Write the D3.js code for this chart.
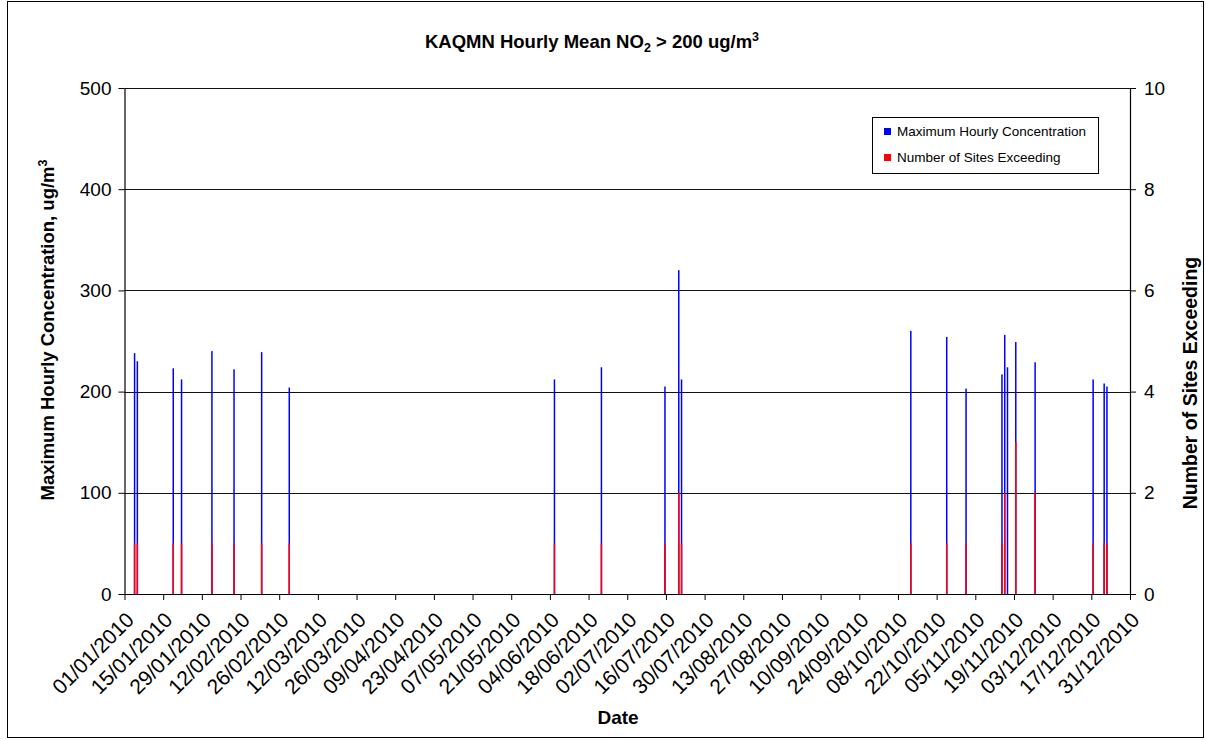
<!DOCTYPE html>
<html><head><meta charset="utf-8">
<script src="https://cdn.jsdelivr.net/npm/d3@7"></script>
<style>
body{margin:0;background:#fff;}
text{font-family:"Liberation Sans",Arial,sans-serif;fill:#000;}
</style>
</head><body>
<svg id="c" width="1206" height="740"></svg>
<script>
// ---- data ----
const dates = ["04/01/2010","05/01/2010","18/01/2010","21/01/2010","01/02/2010","09/02/2010","19/02/2010","01/03/2010",
  "05/06/2010","22/06/2010","15/07/2010","20/07/2010","21/07/2010",
  "12/10/2010","25/10/2010","01/11/2010","14/11/2010","15/11/2010","16/11/2010","19/11/2010","26/11/2010",
  "17/12/2010","21/12/2010","22/12/2010"];
const maxConc = [238,230,223,212,240,222,239,204, 212,224,205,320,212, 260,254,203,217,256,224,249,229, 212,208,205];
const sitesExceeding = [1,1,1,1,1,1,1,1, 1,1,1,2,1, 1,1,1,1,2,0,3,2, 1,1,1];
const xTickLabels = ["01/01/2010","15/01/2010","29/01/2010","12/02/2010","26/02/2010","12/03/2010","26/03/2010",
  "09/04/2010","23/04/2010","07/05/2010","21/05/2010","04/06/2010","18/06/2010","02/07/2010","16/07/2010",
  "30/07/2010","13/08/2010","27/08/2010","10/09/2010","24/09/2010","08/10/2010","22/10/2010","05/11/2010",
  "19/11/2010","03/12/2010","17/12/2010","31/12/2010"];
const leftTicks = [0,100,200,300,400,500];
const rightTicks = [0,2,4,6,8,10];
const seriesNames = ["Maximum Hourly Concentration","Number of Sites Exceeding"];
const seriesColors = ["#0000FF","#FF0000"];

// ---- layout ----
const parse = d3.timeParse("%d/%m/%Y");
const fmt = d3.timeFormat("%d/%m/%Y");
const L = 124.5, R = 1130, T = 88, B = 594;
const svg = d3.select("#c");

svg.append("rect").attr("x",7.5).attr("y",1.5).attr("width",1196).attr("height",736)
  .attr("fill","#fff").attr("stroke","#000").attr("stroke-width",1);

const x = d3.scaleTime().domain([parse(xTickLabels[0]), parse(xTickLabels[xTickLabels.length-1])]).range([L, R]);
const yL = d3.scaleLinear().domain([0,500]).range([B, T]);
const yR = d3.scaleLinear().domain([0,10]).range([B, T]);
const dayW = x(parse("02/01/2010")) - x(parse("01/01/2010"));
const barW = 1.5;
const cx = d => x(parse(d)) + 0.65*dayW;

// gridlines
svg.append("g").selectAll("line").data(leftTicks.filter(v=>v>0)).join("line")
  .attr("x1",L).attr("x2",R).attr("y1",d=>Math.round(yL(d))+0.5).attr("y2",d=>Math.round(yL(d))+0.5)
  .attr("stroke","#111").attr("stroke-width",1.1);

// bars
const rows = dates.map((d,i)=>({d, v:maxConc[i], s:sitesExceeding[i]}));
svg.append("g").selectAll("rect").data(rows).join("rect")
  .attr("x",r=>cx(r.d)-barW/2).attr("width",barW)
  .attr("y",r=>yL(r.v)).attr("height",r=>yL(0)-yL(r.v)).attr("fill",seriesColors[0]);
svg.append("g").selectAll("rect").data(rows.filter(r=>r.s>0)).join("rect")
  .attr("x",r=>cx(r.d)-barW/2).attr("width",barW)
  .attr("y",r=>yR(r.s)).attr("height",r=>yR(0)-yR(r.s)).attr("fill",seriesColors[1]);

// axes
function styleAxis(g, fs){
  g.selectAll("path.domain").attr("stroke","#000").attr("stroke-width",1.2);
  g.selectAll(".tick line").attr("stroke","#000");
  g.selectAll("text").style("font-size",fs+"px").style("font-family","'Liberation Sans',Arial,sans-serif");
}
const gL = svg.append("g").attr("transform",`translate(${L},0)`)
  .call(d3.axisLeft(yL).tickValues(leftTicks).tickSize(6).tickSizeOuter(0).tickPadding(7));
styleAxis(gL, 19);
const gR = svg.append("g").attr("transform",`translate(${R},0)`)
  .call(d3.axisRight(yR).tickValues(rightTicks).tickSize(6).tickSizeOuter(0).tickPadding(8));
styleAxis(gR, 19);
const gX = svg.append("g").attr("transform",`translate(0,${B})`)
  .call(d3.axisBottom(x).tickValues(xTickLabels.map(parse)).tickFormat(fmt).tickSize(6).tickSizeOuter(0));
styleAxis(gX, 21);
gX.selectAll(".tick text")
  .attr("text-anchor","end").attr("x",0).attr("y",0).attr("dy","0.35em")
  .attr("transform","translate(5,22) rotate(-45)");

// titles
const title = svg.append("text").attr("x",592).attr("y",48).attr("text-anchor","middle")
  .style("font-size","18.5px").style("font-weight","bold");
title.append("tspan").text("KAQMN Hourly Mean NO");
title.append("tspan").text("2").style("font-size","12.5px").attr("dy",4);
title.append("tspan").text(" > 200 ug/m").attr("dy",-4);
title.append("tspan").text("3").style("font-size","12.5px").attr("dy",-7);

const yt = svg.append("text").attr("transform","translate(54,330) rotate(-90)").attr("text-anchor","middle")
  .style("font-size","18.5px").style("font-weight","bold");
yt.append("tspan").text("Maximum Hourly Concentration, ug/m");
yt.append("tspan").text("3").style("font-size","12.5px").attr("dy",-7);

svg.append("text").attr("transform","translate(1197,383) rotate(-90)").attr("text-anchor","middle")
  .style("font-size","19.5px").style("font-weight","bold").text("Number of Sites Exceeding");

svg.append("text").attr("x",618).attr("y",724).attr("text-anchor","middle")
  .style("font-size","19px").style("font-weight","bold").text("Date");

// legend
const lg = svg.append("g");
lg.append("rect").attr("x",872.5).attr("y",117.5).attr("width",226).attr("height",56)
  .attr("fill","#fff").attr("stroke","#000");
seriesNames.forEach((n,i)=>{
  lg.append("rect").attr("x",884).attr("y",128+i*26).attr("width",7).attr("height",7).attr("fill",seriesColors[i]);
  lg.append("text").attr("x",897).attr("y",136+i*26).style("font-size","13.5px").text(n);
});
</script>
</body></html>
